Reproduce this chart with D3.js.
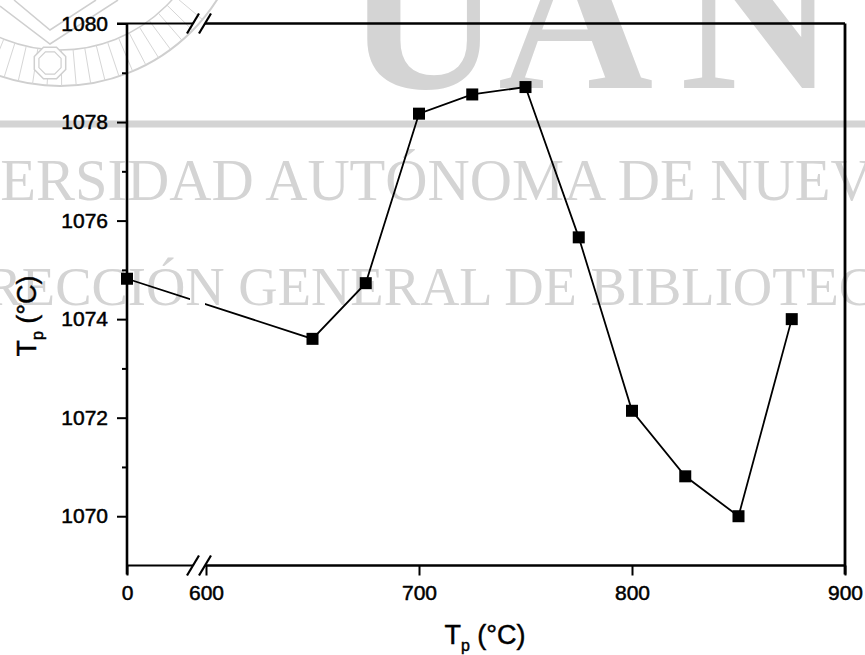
<!DOCTYPE html>
<html>
<head>
<meta charset="utf-8">
<script src="https://cdn.jsdelivr.net/npm/d3@7"></script>
<style>
  body { margin: 0; background: #fff; }
  svg { display: block; }
</style>
</head>
<body>
<script>
// pre-treatment temperature (x) and peak temperature (y)
var treatTemp = [0, 650, 675, 700, 725, 750, 775, 800, 825, 850, 875];
var peakTemp = [1074.82, 1073.6, 1074.73, 1078.17, 1078.56, 1078.71, 1075.66, 1072.14, 1070.81, 1070.0, 1074.0];

var xTicks = [0, 600, 700, 800, 900];
var yMajor = [1070, 1072, 1074, 1076, 1078, 1080];
var yMinor = [1071, 1073, 1075, 1077, 1079];

// watermark texts of the scanned page
var wmLetters = ["U", "A", "N"];
var wmLine1 = "UNIVERSIDAD AUTÓNOMA DE NUEVO LEÓN";
var wmLine2 = "DIRECCIÓN GENERAL DE BIBLIOTECAS";

var W = 865, H = 655;
var margin = {left: 127, top: 23.5};
var width = 718, height = 542;
var gray = "#d4d4d4";

var svg = d3.select("body").append("svg")
    .attr("width", W)
    .attr("height", H);

// ---- watermark (behind everything) ----
var wm = svg.append("g");

// seal top-left
var sc = {x: 60, y: -100};
wm.append("circle").attr("cx", sc.x).attr("cy", sc.y).attr("r", 186)
    .attr("fill", "none").attr("stroke", "#cfcfcf").attr("stroke-width", 2);
wm.append("circle").attr("cx", sc.x).attr("cy", sc.y).attr("r", 150)
    .attr("fill", "none").attr("stroke", "#cfcfcf").attr("stroke-width", 1.5);
d3.range(40, 122, 4.5).forEach(function(a) {
    var r = a * Math.PI / 180;
    wm.append("line")
        .attr("x1", sc.x + 150 * Math.cos(r)).attr("y1", sc.y + 150 * Math.sin(r))
        .attr("x2", sc.x + 186 * Math.cos(r)).attr("y2", sc.y + 186 * Math.sin(r))
        .attr("stroke", "#d6d6d6").attr("stroke-width", 1);
});
function octagon(cx, cy, r) {
    return d3.range(8).map(function(i) {
        var a = (i * 45 + 22.5) * Math.PI / 180;
        return [cx + r * Math.cos(a), cy + r * Math.sin(a)];
    });
}
wm.append("path").attr("d", d3.line().curve(d3.curveLinearClosed)(octagon(50, 63, 17)))
    .attr("fill", "#fff").attr("stroke", "#cfcfcf").attr("stroke-width", 1.5);
wm.append("path").attr("d", d3.line().curve(d3.curveLinearClosed)(octagon(50, 63, 12)))
    .attr("fill", "none").attr("stroke", "#cfcfcf").attr("stroke-width", 1.2);
wm.append("path").attr("d", d3.line()([[0, 6], [50, 44], [118, 0]]))
    .attr("fill", "none").attr("stroke", "#cfcfcf").attr("stroke-width", 1.5);
wm.append("path").attr("d", d3.line()([[14, 0], [50, 30], [96, 0]]))
    .attr("fill", "none").attr("stroke", "#cfcfcf").attr("stroke-width", 1.5);

// big letters
var big = wm.append("text")
    .attr("y", 88)
    .attr("font-family", "'Liberation Serif', 'Times New Roman', serif")
    .attr("font-size", 215)
    .attr("font-weight", "bold")
    .attr("fill", gray);
big.selectAll("tspan").data(wmLetters).enter().append("tspan")
    .attr("x", function(d, i) { return [346, 498, 680][i]; })
    .text(function(d) { return d; });

// band
wm.append("rect").attr("x", 0).attr("y", 120.5).attr("width", W).attr("height", 7)
    .attr("fill", gray);

wm.append("text")
    .attr("x", -146).attr("y", 200)
    .attr("font-family", "'Liberation Serif', 'Times New Roman', serif")
    .attr("font-size", 58.5)
    .attr("fill", gray)
    .text(wmLine1);

wm.append("text")
    .attr("x", -72).attr("y", 305)
    .attr("font-family", "'Liberation Serif', 'Times New Roman', serif")
    .attr("font-size", 54.5)
    .attr("fill", gray)
    .text(wmLine2);

// ---- chart ----
var g = svg.append("g")
    .attr("transform", "translate(" + margin.left + "," + margin.top + ")");

// broken x axis: 0 and then 600..900
var x = d3.scaleLinear()
    .domain([0, 600, 900])
    .range([0, 79, width]);

var y = d3.scaleLinear()
    .domain([1069, 1080])
    .range([height, 0]);

var breakA = x(600) - 13, breakB = x(600) - 1;

// clip so the data line is interrupted at the axis break
var clip = svg.append("defs").append("clipPath").attr("id", "brk");
clip.append("rect").attr("x", -20).attr("y", -20).attr("width", breakA - 3 + 20).attr("height", height + 40);
clip.append("rect").attr("x", breakB).attr("y", -20).attr("width", width - breakB + 20).attr("height", height + 40);

var pts = treatTemp.map(function(d, i) { return [d, peakTemp[i]]; });

g.append("path")
    .datum(pts)
    .attr("clip-path", "url(#brk)")
    .attr("fill", "none")
    .attr("stroke", "#000")
    .attr("stroke-width", 1.8)
    .attr("d", d3.line()
        .x(function(d) { return x(d[0]); })
        .y(function(d) { return y(d[1]); }));

g.selectAll("rect.pt")
    .data(pts)
    .enter()
    .append("rect")
    .attr("class", "pt")
    .attr("x", function(d) { return x(d[0]) - 6; })
    .attr("y", function(d) { return y(d[1]) - 6; })
    .attr("width", 12)
    .attr("height", 12)
    .attr("fill", "#000");

// frame lines
var frame = g.append("g").attr("stroke", "#000").attr("fill", "none");
frame.append("line").attr("x1", 0).attr("x2", 0).attr("y1", 0).attr("y2", height + 9)
    .attr("stroke-width", 2.6);
frame.append("line").attr("x1", width).attr("x2", width).attr("y1", 0).attr("y2", height + 9)
    .attr("stroke-width", 2.8);
[0, height].forEach(function(yy) {
    frame.append("line").attr("x1", yy === 0 ? -10 : 0).attr("x2", breakA).attr("y1", yy).attr("y2", yy)
        .attr("stroke-width", 2.2);
    frame.append("line").attr("x1", breakB).attr("x2", width).attr("y1", yy).attr("y2", yy)
        .attr("stroke-width", 2.6);
    [breakA, breakB].forEach(function(bx) {
        frame.append("line")
            .attr("x1", bx - 6).attr("y1", yy + 10)
            .attr("x2", bx + 6).attr("y2", yy - 10)
            .attr("stroke-width", 2.2);
    });
});

// y axis ticks
g.append("g")
    .call(d3.axisLeft(y).tickValues(yMajor).tickSize(10).tickPadding(9).tickFormat(d3.format("d")));
g.append("g")
    .call(d3.axisLeft(y).tickValues(yMinor).tickSize(5).tickFormat(""));

// x axis ticks
g.append("g")
    .attr("transform", "translate(0," + height + ")")
    .call(d3.axisBottom(x).tickValues(xTicks).tickSize(10).tickPadding(10).tickFormat(d3.format("d")));

g.selectAll(".domain").remove();
g.selectAll(".tick line").attr("stroke", "#000").attr("stroke-width", 2);
g.selectAll(".tick text")
    .attr("font-family", "'Liberation Sans', Arial, sans-serif")
    .attr("font-size", 21)
    .attr("fill", "#000")
    .attr("stroke", "#000")
    .attr("stroke-width", 0.5);

// axis titles
function title(sel) {
    sel.attr("font-family", "'Liberation Sans', Arial, sans-serif")
        .attr("font-size", 27)
        .attr("fill", "#000")
        .attr("stroke", "#000")
        .attr("stroke-width", 0.45);
    sel.append("tspan").text("T");
    sel.append("tspan").attr("font-size", 16).attr("dy", 7).text("p");
    sel.append("tspan").attr("dy", -7).text(" (°C)");
}

svg.append("text")
    .attr("x", 485).attr("y", 644)
    .attr("text-anchor", "middle")
    .call(title);

svg.append("text")
    .attr("transform", "translate(36,316) rotate(-90)")
    .attr("text-anchor", "middle")
    .call(title);
</script>
</body>
</html>
